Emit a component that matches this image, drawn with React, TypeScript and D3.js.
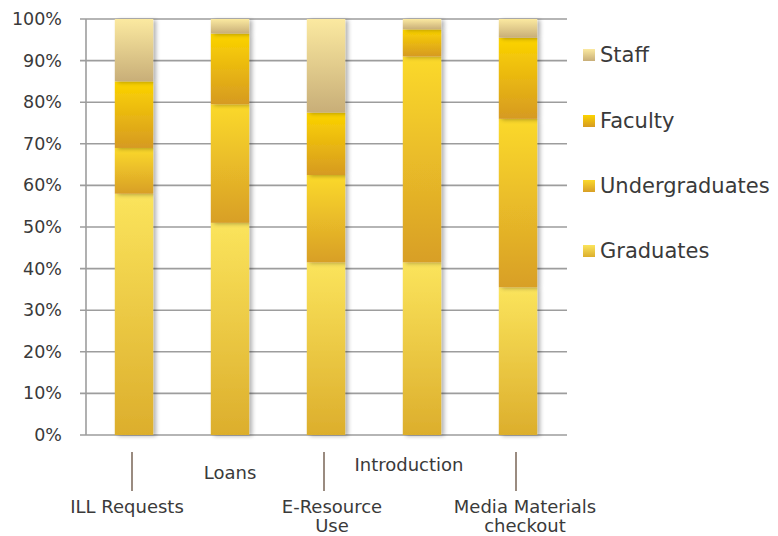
import React from "react";
import * as d3 from "d3";

const categories = ["ILL Requests", "Loans", "E-Resource Use", "Introduction", "Media Materials checkout"];
const seriesNames = ["Graduates", "Undergraduates", "Faculty", "Staff"];
const graduates = [58, 51, 41.5, 41.5, 35.5];
const undergraduates = [11, 28.5, 21, 49.5, 40.5];
const faculty = [16, 17, 15, 6.5, 19.5];
const staff = [15, 3.5, 22.5, 2.5, 4.5];
const yTicks = [0, 10, 20, 30, 40, 50, 60, 70, 80, 90, 100];

const gradStops: Record<string, [string, string]> = {
  Graduates: ["#fbe45c", "#dcae2c"],
  Undergraduates: ["#fbd92c", "#d89f26"],
  Faculty: ["#fcd400", "#d69a22"],
  Staff: ["#fbe9a0", "#c8ae78"],
};

export default function App() {
  const W = 778, H = 536;
  const left = 86, right = 566, top = 19, bottom = 435;
  const x = d3.scaleBand<string>().domain(categories).range([left, right]).paddingInner(0.6).paddingOuter(0.3);
  const y = d3.scaleLinear().domain([0, 100]).range([bottom, top]);
  const rows = categories.map((c, i) => ({
    cat: c,
    Graduates: graduates[i],
    Undergraduates: undergraduates[i],
    Faculty: faculty[i],
    Staff: staff[i],
  }));
  const stack = d3.stack<any>().keys(seriesNames)(rows);
  const font = "'DejaVu Sans', sans-serif";
  const txt = "#3a3a3a";
  const band = (right - left) / categories.length;
  const cx = (i: number) => left + band * (i + 0.5);
  const labelLines: { i: number; dx: number; lines: string[]; y: number }[] = [
    { i: 0, dx: -7, lines: ["ILL Requests"], y: 513 },
    { i: 1, dx: 0, lines: ["Loans"], y: 479 },
    { i: 2, dx: 6, lines: ["E-Resource", "Use"], y: 513 },
    { i: 3, dx: -13, lines: ["Introduction"], y: 471 },
    { i: 4, dx: 7, lines: ["Media Materials", "checkout"], y: 513 },
  ];
  const legendY = [251, 186, 121, 55];
  return (
    <svg width={W} height={H} style={{ display: "block", position: "absolute", left: 0, top: 0 }}>
      <defs>
        {seriesNames.map((s) => (
          <linearGradient key={s} id={`g-${s}`} x1="0" y1="0" x2="0" y2="1">
            <stop offset="0" stopColor={gradStops[s][0]} />
            <stop offset="1" stopColor={gradStops[s][1]} />
          </linearGradient>
        ))}
        <filter id="sh" x="-20%" y="-5%" width="150%" height="110%">
          <feGaussianBlur in="SourceAlpha" stdDeviation="2" />
          <feOffset dx="3" dy="1" result="b" />
          <feComponentTransfer><feFuncA type="linear" slope="0.3" /></feComponentTransfer>
          <feMerge><feMergeNode /><feMergeNode in="SourceGraphic" /></feMerge>
        </filter>
      </defs>
      <rect width={W} height={H} fill="#fff" />
      {yTicks.map((t) => (
        <g key={t}>
          <line x1={left - 6} x2={right + 1} y1={y(t)} y2={y(t)} stroke="#9d9d9d" strokeWidth={1.6} />
          <text x={62} y={y(t) + 6} textAnchor="end" fontFamily={font} fontSize={17.5} fill={txt}>{t}%</text>
        </g>
      ))}
      <line x1={left} x2={left} y1={top} y2={bottom} stroke="#9d9d9d" strokeWidth={1.6} />
      {stack.map((layer) => (
        <g key={layer.key} filter="url(#sh)">
          {layer.map((d, i) => (
            <rect key={i} x={x(categories[i])!} width={x.bandwidth()} y={y(d[1])} height={y(d[0]) - y(d[1])} fill={`url(#g-${layer.key})`} />
          ))}
        </g>
      ))}
      {[0, 2, 4].map((i) => (
        <line key={i} x1={cx(i) - 2} x2={cx(i) - 2} y1={452} y2={491} stroke="#9a8b80" strokeWidth={2} />
      ))}
      {labelLines.map((l) => (
        <text key={l.i} x={cx(l.i) + l.dx} y={l.y} textAnchor="middle" fontFamily={font} fontSize={18} fill={txt}>
          {l.lines.map((ln, k) => (
            <tspan key={k} x={cx(l.i) + l.dx} dy={k === 0 ? 0 : 19}>{ln}</tspan>
          ))}
        </text>
      ))}
      {seriesNames.map((s, k) => (
        <g key={s}>
          <rect x={583} y={legendY[k] - 6} width={12} height={12} fill={`url(#g-${s})`} />
          <text x={600} y={legendY[k] + 7} fontFamily={font} fontSize={21} fill={txt}>{s}</text>
        </g>
      ))}
    </svg>
  );
}
